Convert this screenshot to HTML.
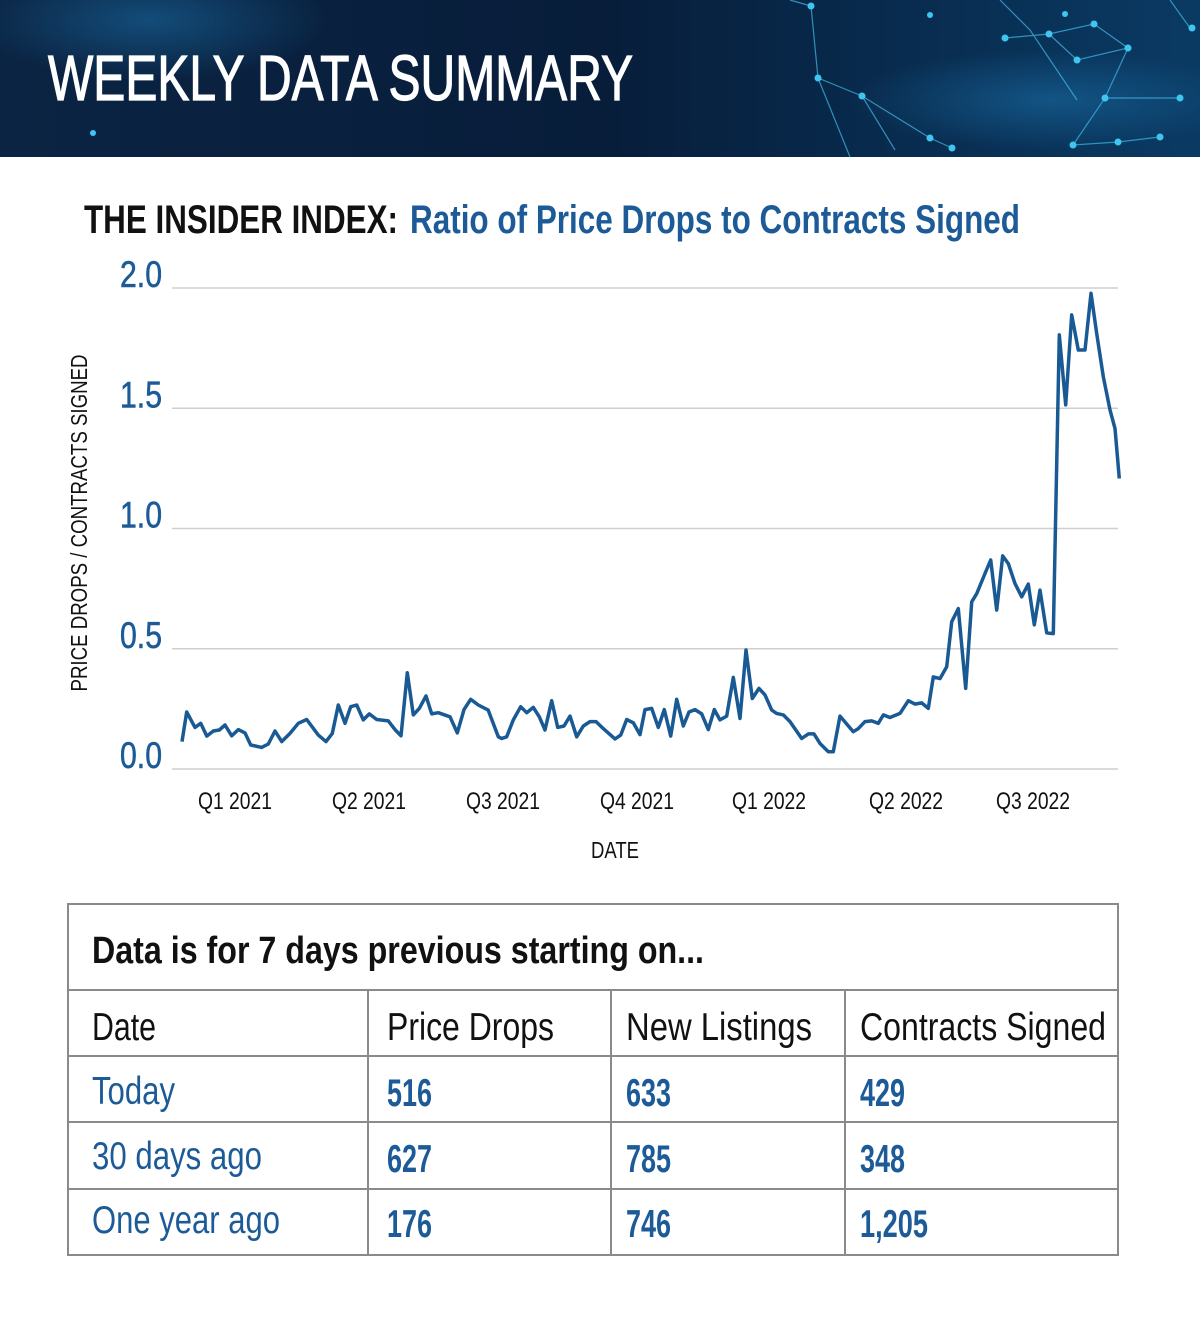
<!DOCTYPE html>
<html><head><meta charset="utf-8">
<style>
html,body{margin:0;padding:0;background:#fff;}
svg{display:block;}
text{font-family:"Liberation Sans Narrow","Liberation Sans",sans-serif;}
</style></head>
<body>
<svg id="page" width="1200" height="1322" viewBox="0 0 1200 1322" xmlns="http://www.w3.org/2000/svg">
<defs>
<linearGradient id="hdr" x1="0" y1="0" x2="1" y2="0">
<stop offset="0" stop-color="#0b2443"/><stop offset="0.5" stop-color="#071d3a"/><stop offset="1" stop-color="#0a3a63"/>
</linearGradient>
<radialGradient id="glow" cx="0.5" cy="0.5" r="0.5"><stop offset="0" stop-color="#1a6fa8" stop-opacity="0.55"/><stop offset="1" stop-color="#1a6fa8" stop-opacity="0"/></radialGradient>
</defs>
<g>
<rect x="0" y="0" width="1200" height="157" fill="url(#hdr)"/>
<ellipse cx="150" cy="20" rx="180" ry="60" fill="url(#glow)"/>
<ellipse cx="1050" cy="100" rx="200" ry="50" fill="url(#glow)"/>
<g stroke="#3fb3e0" stroke-width="1.2" opacity="0.75" fill="none">
<polyline points="790,0 811,6 818,78 862,96 930,138 952,148"/>
<polyline points="818,78 850,157"/>
<polyline points="862,96 895,150"/>
<polyline points="1005,38 1049,34 1094,24 1128,48 1077,60 1049,34"/>
<polyline points="1128,48 1105,98 1073,145 1118,142 1160,137"/>
<polyline points="1105,98 1180,98"/>
<polyline points="1000,0 1030,30 1077,100"/>
<polyline points="1170,0 1190,28"/>
</g>
<g fill="#3fc6f0">
<circle cx="811" cy="6" r="3.5"/><circle cx="818" cy="78" r="3.5"/><circle cx="862" cy="96" r="3.5"/>
<circle cx="930" cy="138" r="3.5"/><circle cx="952" cy="148" r="3.5"/><circle cx="1005" cy="38" r="3.5"/>
<circle cx="1049" cy="34" r="3.5"/><circle cx="1094" cy="24" r="3.5"/><circle cx="1128" cy="48" r="3.5"/>
<circle cx="1077" cy="60" r="3.5"/><circle cx="1105" cy="98" r="3.5"/><circle cx="1073" cy="145" r="3.5"/>
<circle cx="1118" cy="142" r="3.5"/><circle cx="1160" cy="137" r="3.5"/><circle cx="1180" cy="98" r="3.5"/>
<circle cx="1192" cy="28" r="3.5"/><circle cx="930" cy="15" r="3"/><circle cx="1065" cy="14" r="3"/>
<circle cx="93" cy="133" r="3"/>
</g>
<text x="48" y="100" font-size="64" fill="#ffffff" stroke="#ffffff" stroke-width="1.2" textLength="585" lengthAdjust="spacingAndGlyphs">WEEKLY DATA SUMMARY</text>
</g>

<g>
<text x="84" y="233" font-size="40" font-weight="bold" fill="#111" textLength="314" lengthAdjust="spacingAndGlyphs">THE INSIDER INDEX:</text>
<text x="410" y="233" font-size="40" font-weight="bold" fill="#1c5b97" textLength="610" lengthAdjust="spacingAndGlyphs">Ratio of Price Drops to Contracts Signed</text>
</g>

<g id="chart"></g>

<text x="615" y="858" font-size="23" fill="#111" text-anchor="middle" textLength="48" lengthAdjust="spacingAndGlyphs">DATE</text>
<text transform="translate(87,523) rotate(-90)" font-size="23" fill="#111" text-anchor="middle" textLength="337" lengthAdjust="spacingAndGlyphs">PRICE DROPS / CONTRACTS SIGNED</text>

<g stroke="#8a8a8a" stroke-width="2" fill="none">
<rect x="68" y="904" width="1050" height="351"/>
<line x1="68" y1="990" x2="1118" y2="990"/>
<line x1="68" y1="1056" x2="1118" y2="1056"/>
<line x1="68" y1="1122" x2="1118" y2="1122"/>
<line x1="68" y1="1189" x2="1118" y2="1189"/>
<line x1="368" y1="990" x2="368" y2="1255"/>
<line x1="611" y1="990" x2="611" y2="1255"/>
<line x1="845" y1="990" x2="845" y2="1255"/>
</g>
<text x="92" y="963" font-size="38" font-weight="bold" fill="#111" textLength="612" lengthAdjust="spacingAndGlyphs">Data is for 7 days previous starting on...</text>
<g font-size="39" fill="#111">
<text x="92" y="1040" textLength="64" lengthAdjust="spacingAndGlyphs">Date</text>
<text x="387" y="1040" textLength="167" lengthAdjust="spacingAndGlyphs">Price Drops</text>
<text x="626" y="1040" textLength="186" lengthAdjust="spacingAndGlyphs">New Listings</text>
<text x="860" y="1040" textLength="246" lengthAdjust="spacingAndGlyphs">Contracts Signed</text>
</g>
<g font-size="39" fill="#1c5b97">
<text x="92" y="1104" textLength="83" lengthAdjust="spacingAndGlyphs">Today</text>
<text x="387" y="1106" font-weight="bold" textLength="45" lengthAdjust="spacingAndGlyphs">516</text>
<text x="626" y="1106" font-weight="bold" textLength="45" lengthAdjust="spacingAndGlyphs">633</text>
<text x="860" y="1106" font-weight="bold" textLength="45" lengthAdjust="spacingAndGlyphs">429</text>
</g>
<g font-size="39" fill="#1c5b97">
<text x="92" y="1169" textLength="170" lengthAdjust="spacingAndGlyphs">30 days ago</text>
<text x="387" y="1172" font-weight="bold" textLength="45" lengthAdjust="spacingAndGlyphs">627</text>
<text x="626" y="1172" font-weight="bold" textLength="45" lengthAdjust="spacingAndGlyphs">785</text>
<text x="860" y="1172" font-weight="bold" textLength="45" lengthAdjust="spacingAndGlyphs">348</text>
</g>
<g font-size="39" fill="#1c5b97">
<text x="92" y="1233" textLength="188" lengthAdjust="spacingAndGlyphs">One year ago</text>
<text x="387" y="1237" font-weight="bold" textLength="45" lengthAdjust="spacingAndGlyphs">176</text>
<text x="626" y="1237" font-weight="bold" textLength="45" lengthAdjust="spacingAndGlyphs">746</text>
<text x="860" y="1237" font-weight="bold" textLength="68" lengthAdjust="spacingAndGlyphs">1,205</text>
</g>
</svg>
<script>
const weeks = [0.1,0.55,1.36,1.91,2.5,3.14,3.72,4.27,4.92,5.56,6.21,6.77,7.83,8.48,9.13,9.78,10.58,11.39,12.2,13.33,14.08,14.69,15.27,15.92,16.48,17.06,17.7,18.28,19,20.13,20.78,21.36,21.97,22.55,23.14,23.79,24.34,24.98,26.12,26.83,27.48,28.13,28.86,29.83,30.81,31.14,31.62,32.26,32.98,33.56,34.2,34.79,35.34,35.99,36.57,37.18,37.77,38.42,39.06,39.71,40.29,41,42.14,42.69,43.27,43.91,44.56,45.05,45.7,46.34,46.92,47.54,48.13,48.77,49.32,49.9,50.55,51.19,51.78,52.33,52.98,53.62,54.27,54.85,55.47,56.12,56.7,57.35,57.83,58.48,59.13,60.26,60.9,61.46,62.04,62.84,63.33,63.98,65.27,65.76,66.41,67.06,67.7,68.19,68.83,69.81,70.61,71.26,71.91,72.55,73.04,73.69,74.34,74.83,75.47,76.18,76.77,77.25,78.06,78.61,79.19,79.78,80.32,80.97,81.62,82.26,82.84,83.4,84.05,84.69,85.27,85.89,86.48,87.12,87.77,88.35,88.9,89.54,90.19,90.68,91.1];
const ratios = [0.114,0.237,0.173,0.19,0.137,0.158,0.162,0.183,0.138,0.164,0.15,0.1,0.09,0.104,0.158,0.114,0.148,0.19,0.206,0.141,0.114,0.148,0.266,0.19,0.259,0.266,0.204,0.229,0.206,0.2,0.164,0.138,0.4,0.225,0.252,0.304,0.229,0.234,0.217,0.15,0.247,0.29,0.266,0.245,0.134,0.127,0.134,0.204,0.259,0.234,0.256,0.217,0.162,0.284,0.173,0.179,0.22,0.134,0.179,0.197,0.197,0.168,0.125,0.141,0.206,0.192,0.143,0.247,0.252,0.173,0.247,0.137,0.29,0.179,0.237,0.247,0.229,0.164,0.247,0.204,0.22,0.381,0.21,0.495,0.293,0.335,0.308,0.245,0.231,0.225,0.197,0.127,0.146,0.146,0.106,0.072,0.072,0.22,0.155,0.168,0.197,0.2,0.19,0.225,0.214,0.231,0.284,0.27,0.275,0.252,0.383,0.376,0.425,0.612,0.667,0.335,0.695,0.729,0.813,0.869,0.661,0.886,0.854,0.771,0.716,0.769,0.599,0.744,0.566,0.563,1.805,1.514,1.888,1.742,1.742,1.978,1.811,1.631,1.493,1.416,1.208];
const yTicks = [0, 0.5, 1.0, 1.5, 2.0];
const yTickLabels = ["0.0","0.5","1.0","1.5","2.0"];
const quarterLabels = ["Q1 2021","Q2 2021","Q3 2021","Q4 2021","Q1 2022","Q2 2022","Q3 2022"];
const quarterWeeks = [5.24,18.25,31.26,44.27,57.09,70.39,82.72];

const NS = "http://www.w3.org/2000/svg";
const chart = document.getElementById("chart");
const xScale = w => 181 + w * 10.3;
const yScale = v => 769 - v * 240.5;

yTicks.forEach((t, i) => {
  const ln = document.createElementNS(NS, "line");
  ln.setAttribute("x1", 172); ln.setAttribute("x2", 1118);
  ln.setAttribute("y1", yScale(t)); ln.setAttribute("y2", yScale(t));
  ln.setAttribute("stroke", "#cfcfcf"); ln.setAttribute("stroke-width", "1.5");
  
  
  chart.appendChild(ln);
  const tx = document.createElementNS(NS, "text");
  tx.setAttribute("x", 162); tx.setAttribute("y", yScale(t) - 1);
  tx.setAttribute("text-anchor", "end");
  tx.setAttribute("font-size", "37"); tx.setAttribute("fill", "#1c5b97");
  tx.setAttribute("stroke", "#1c5b97"); tx.setAttribute("stroke-width", "0.6");
  tx.setAttribute("textLength", "42"); tx.setAttribute("lengthAdjust", "spacingAndGlyphs");
  tx.textContent = yTickLabels[i];
  
  
  chart.appendChild(tx);
});

quarterLabels.forEach((q, i) => {
  const tx = document.createElementNS(NS, "text");
  tx.setAttribute("x", xScale(quarterWeeks[i])); tx.setAttribute("y", 809);
  tx.setAttribute("text-anchor", "middle");
  tx.setAttribute("font-size", "24"); tx.setAttribute("fill", "#111");
  tx.setAttribute("textLength", "74"); tx.setAttribute("lengthAdjust", "spacingAndGlyphs");
  tx.textContent = q;
  
  
  chart.appendChild(tx);
});

const pts = weeks.map((w, i) => xScale(w).toFixed(1) + "," + yScale(ratios[i]).toFixed(1)).join(" ");
const line = document.createElementNS(NS, "polyline");
line.setAttribute("points", pts);
line.setAttribute("fill", "none");
line.setAttribute("stroke", "#1a5a94");
line.setAttribute("stroke-width", "3.5");
line.setAttribute("stroke-linejoin", "round");


chart.appendChild(line);
</script>
</body></html>
